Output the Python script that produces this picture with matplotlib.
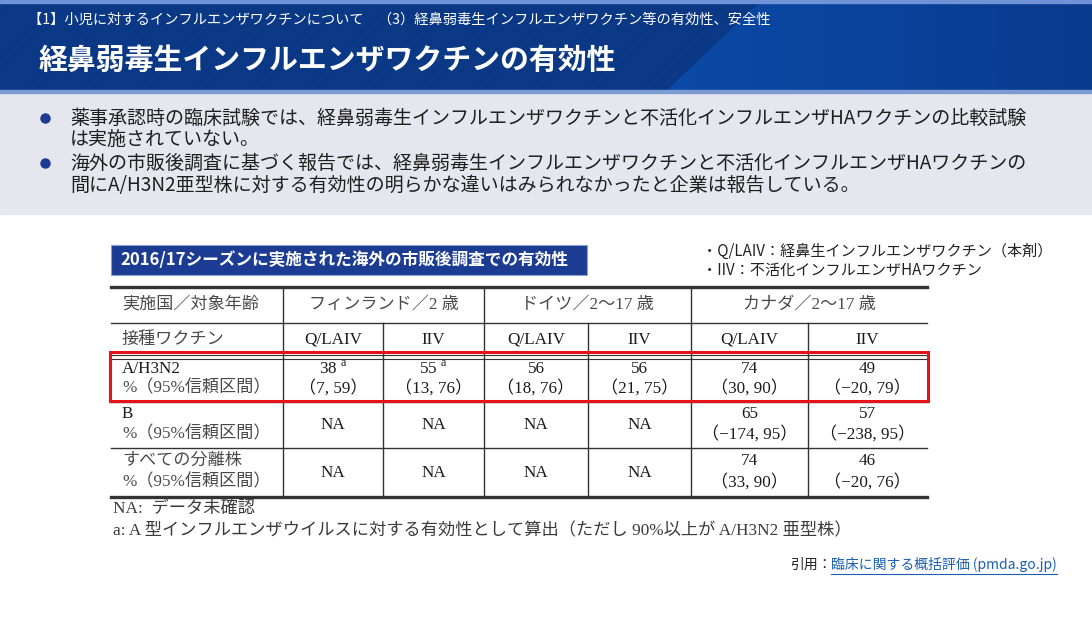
import numpy as np
import matplotlib
matplotlib.use("Agg")
import matplotlib.pyplot as plt
from matplotlib.patches import Rectangle, Polygon
from matplotlib.colors import LinearSegmentedColormap

plt.rcParams['font.family'] = ['Noto Sans CJK JP', 'DejaVu Sans']
plt.rcParams['mathtext.fontset'] = 'custom'
plt.rcParams['mathtext.rm'] = 'Liberation Serif'

# --- texts ---
breadcrumb = "【1】小児に対するインフルエンザワクチンについて　（3）経鼻弱毒生インフルエンザワクチン等の有効性、安全性"
title = "経鼻弱毒生インフルエンザワクチンの有効性"
bullets = [
    ["薬事承認時の臨床試験では、経鼻弱毒生インフルエンザワクチンと不活化インフルエンザHAワクチンの比較試験",
     "は実施されていない。"],
    ["海外の市販後調査に基づく報告では、経鼻弱毒生インフルエンザワクチンと不活化インフルエンザHAワクチンの",
     "間にA/H3N2亜型株に対する有効性の明らかな違いはみられなかったと企業は報告している。"],
]
table_title = "2016/17シーズンに実施された海外の市販後調査での有効性"
legend_lines = ["・Q/LAIV：経鼻生インフルエンザワクチン（本剤）",
                "・IIV：不活化インフルエンザHAワクチン"]

# --- table data ---
countries = ["フィンランド／2 歳", "ドイツ／2〜17 歳", "カナダ／2〜17 歳"]
vaccines = ["Q/LAIV", "IIV", "Q/LAIV", "IIV", "Q/LAIV", "IIV"]
row_labels = [["A/H3N2", "%（95%信頼区間）"],
              ["B", "%（95%信頼区間）"],
              ["すべての分離株", "%（95%信頼区間）"]]
h3n2_ve = [38, 55, 56, 56, 74, 49]
h3n2_lo = [7, 13, 18, 21, 30, -20]
h3n2_hi = [59, 76, 76, 75, 90, 79]
h3n2_note = ["a", "a", "", "", "", ""]
b_ve = [None, None, None, None, 65, 57]
b_lo = [None, None, None, None, -174, -238]
b_hi = [None, None, None, None, 95, 95]
all_ve = [None, None, None, None, 74, 46]
all_lo = [None, None, None, None, 33, -20]
all_hi = [None, None, None, None, 90, 76]
footnotes = ["NA:  データ未確認",
             "a: A 型インフルエンザウイルスに対する有効性として算出（ただし 90%以上が A/H3N2 亜型株）"]
cite_label = "引用："
cite_link = "臨床に関する概括評価 (pmda.go.jp)"

fig = plt.figure(figsize=(10.92, 6.21), dpi=100)
ax = fig.add_axes([0, 0, 1, 1])
ax.set_xlim(0, 1092)
ax.set_ylim(621, 0)
ax.axis('off')

# header band
ax.add_patch(Rectangle((0, 0), 1092, 92, color='#0a3885', zorder=0))
for k in range(-20, 60):
    x0 = k * 14
    ax.plot([x0, x0 + 92], [92, 0], color='#0d3d8e', lw=0.6, zorder=0.5)
grad = np.linspace(0, 1, 256).reshape(1, -1)
cm = LinearSegmentedColormap.from_list('hdr', ['#0b4aa6', '#0a429c', '#0a3a8c'])
im = ax.imshow(grad, extent=[665, 1092, 92, 0], cmap=cm, aspect='auto', zorder=1)
poly = Polygon([(762, 0), (1092, 0), (1092, 92), (665, 92)], closed=True,
               transform=ax.transData, facecolor='none', edgecolor='none')
ax.add_patch(poly)
im.set_clip_path(poly)
ax.add_patch(Rectangle((0, 0), 1092, 2.5, color='#6f93d6', zorder=2))
ax.add_patch(Rectangle((0, 90), 1092, 2.5, color='#7d9bd3', zorder=2))

ax.text(28, 20, breadcrumb, color='white', fontsize=10.3, va='center', ha='left', zorder=3)
ax.text(39, 60, title, color='white', fontsize=20.8, fontweight='bold', va='center', ha='left', zorder=3)

# gray box with bullets
ax.add_patch(Rectangle((0, 92.5), 1092, 121, color='#e6e6ee', zorder=0))
line_y = [[118, 140], [163, 185]]
for lines, ys in zip(bullets, line_y):
    ax.plot(45, ys[0], 'o', color='#1f3a93', markersize=6.5, zorder=3)
    for s, y in zip(lines, ys):
        ax.text(70, y, s, fontsize=13.7, color='#1e1e1e', va='center', ha='left')

# table title bar and legend
ax.add_patch(Rectangle((111, 245), 476, 30, facecolor='#1b3c92', edgecolor='#8aa0cf', lw=0.8))
ax.text(120, 260, table_title, color='white', fontsize=12, fontweight='bold', va='center', ha='left')
for s, y in zip(legend_lines, [251, 270]):
    ax.text(702, y, s, fontsize=10.9, color='#222222', va='center', ha='left')

# table grid
cols_x = [111, 283, 383, 484, 588, 691, 808, 927]
rows_y = [287, 323, 357, 402, 448, 497]
line_c = '#333333'
serif = ['Liberation Serif', 'Noto Sans CJK JP']
ax.plot([cols_x[0], cols_x[-1]], [rows_y[0]] * 2, color=line_c, lw=2.4)
ax.plot([cols_x[0], cols_x[-1]], [rows_y[-1]] * 2, color=line_c, lw=2.4)
ax.plot([cols_x[0], cols_x[-1]], [rows_y[1]] * 2, color=line_c, lw=1.0)
ax.plot([cols_x[0], cols_x[-1]], [rows_y[2] - 1.8] * 2, color=line_c, lw=0.8)
ax.plot([cols_x[0], cols_x[-1]], [rows_y[2] + 1.8] * 2, color=line_c, lw=0.8)
for y in rows_y[3:5]:
    ax.plot([cols_x[0], cols_x[-1]], [y, y], color=line_c, lw=1.0)
# vertical lines
for i, x in enumerate(cols_x[1:-1], start=1):
    top = rows_y[0] if i % 2 == 1 else rows_y[1]
    ax.plot([x, x], [top, rows_y[-1]], color=line_c, lw=1.0)

tc_label = '#4a4a4a'
tc_num = '#1c1c1c'
fs = 12.3
ax.text(122, 305, "実施国／対象年齢", fontsize=fs, family=serif, color=tc_label, va='center')
ax.text(122, 340, "接種ワクチン", fontsize=fs, family=serif, color=tc_label, va='center')
for j, c in enumerate(countries):
    xc = (cols_x[1 + 2 * j] + cols_x[3 + 2 * j]) / 2
    ax.text(xc, 305, c, fontsize=fs, family=serif, color=tc_label, va='center', ha='center')
centers = [(cols_x[i] + cols_x[i + 1]) / 2 for i in range(1, 7)]
for xc, v in zip(centers, vaccines):
    ax.text(xc, 340, v, fontsize=fs, family=serif, color=tc_num, va='center', ha='center')


def fmt(v):
    return str(v).replace('-', '−')


def fill_row(ve, lo, hi, notes, y1, y2, ymid):
    for k, xc in enumerate(centers):
        if ve[k] is None:
            ax.text(xc, ymid, "NA", fontsize=fs, family=serif, color=tc_num, va='center', ha='center')
            continue
        s = str(ve[k])
        if notes[k]:
            s = s + r"$^{\rm\ " + notes[k] + "}$"
        ax.text(xc, y1, s, fontsize=fs, family=serif, color=tc_num, va='center', ha='center')
        ax.text(xc, y2, "（" + fmt(lo[k]) + ", " + fmt(hi[k]) + "）", fontsize=fs,
                family=serif, color=tc_num, va='center', ha='center')


row_lines = [(369, 388, 379), (414, 434, 425), (461, 482, 473)]
for lab, (y1, y2, _) in zip(row_labels, row_lines):
    ax.text(122, y1, lab[0], fontsize=fs, family=serif,
            color=tc_num if lab[0] in ("A/H3N2", "B") else tc_label, va='center')
    ax.text(122, y2, lab[1], fontsize=fs, family=serif, color=tc_label, va='center')
fill_row(h3n2_ve, h3n2_lo, h3n2_hi, h3n2_note, *row_lines[0])
fill_row(b_ve, b_lo, b_hi, [""] * 6, *row_lines[1])
fill_row(all_ve, all_lo, all_hi, [""] * 6, *row_lines[2])

# red highlight
ax.add_patch(Rectangle((110, 352), 818, 49, facecolor='none', edgecolor='#e3121b', lw=2.2, zorder=5))

# footnotes
for s, y in zip(footnotes, [509, 531]):
    ax.text(113, y, s, fontsize=12.4, family=serif, color='#3a3a3a', va='center')

# citation
link = ax.text(1057, 565, cite_link, fontsize=10, color='#1a5fb4', va='center', ha='right')
fig.canvas.draw()
bb = link.get_window_extent().transformed(ax.transData.inverted())
ax.plot([bb.x0, bb.x1], [574, 574], color='#1a5fb4', lw=0.8)
ax.text(bb.x0, 565, cite_label, fontsize=10, color='#222222', va='center', ha='right')

fig.savefig('out.png', dpi=100)
